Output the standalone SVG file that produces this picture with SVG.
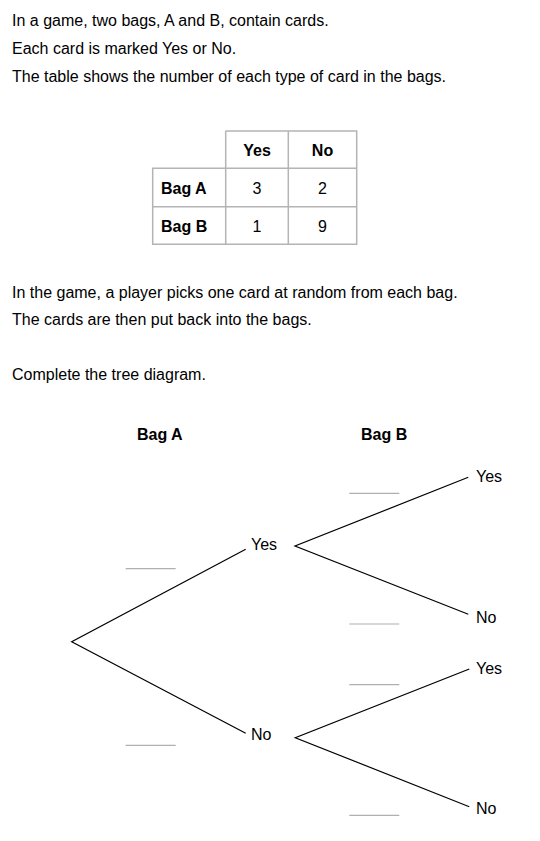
<svg xmlns="http://www.w3.org/2000/svg" width="540" height="841" viewBox="0 0 540 841">
<style>
text{font-family:"Liberation Sans",Arial,sans-serif;font-size:16px;fill:#000}
.b{font-weight:bold}
.m{text-anchor:middle}
.grid{stroke:#b4b4b4;stroke-width:1.5;fill:none}
.br{stroke:#000;stroke-width:1.2;fill:none}
.bl{stroke:#b0b0b0;stroke-width:1.2}
</style>
<rect width="540" height="841" fill="#fff"/>
<g id="intro">
<text x="12" y="26">In a game, two bags, A and B, contain cards.</text>
<text x="12" y="54">Each card is marked Yes or No.</text>
<text x="12" y="81.5">The table shows the number of each type of card in the bags.</text>
</g>
<g id="table">
<path class="grid" d="M225.7 131H356.7V244.3H152.7V168.3H356.7M152.7 206.7H356.7M225.7 131V244.3M288.3 131V244.3"/>
<text class="b m" x="257" y="156">Yes</text>
<text class="b m" x="322.5" y="156">No</text>
<text class="b" x="161" y="193.5">Bag A</text>
<text class="b" x="161" y="231.5">Bag B</text>
<text class="m" x="257" y="193.5">3</text>
<text class="m" x="322.5" y="193.5">2</text>
<text class="m" x="257" y="231.5">1</text>
<text class="m" x="322.5" y="231.5">9</text>
</g>
<g id="text2">
<text x="12" y="297.5">In the game, a player picks one card at random from each bag.</text>
<text x="12" y="325">The cards are then put back into the bags.</text>
<text x="12" y="380">Complete the tree diagram.</text>
</g>
<g id="headers">
<text class="b" x="137" y="440">Bag A</text>
<text class="b" x="361" y="440">Bag B</text>
</g>
<g id="connectors">
<path class="br" d="M245.7 549.3L71.7 641.7L245.7 733.3"/>
<path class="br" d="M468.3 477.3L295 546L468.3 614.3"/>
<path class="br" d="M469.3 669L295.3 737.7L469.3 806.7"/>
</g>
<g id="blanks">
<line class="bl" x1="125.7" y1="568.7" x2="175.7" y2="568.7"/>
<line class="bl" x1="125.7" y1="745.3" x2="175.7" y2="745.3"/>
<line class="bl" x1="349.3" y1="493.3" x2="399.3" y2="493.3"/>
<line class="bl" x1="349.3" y1="624" x2="399.3" y2="624"/>
<line class="bl" x1="349.3" y1="684.7" x2="399.3" y2="684.7"/>
<line class="bl" x1="349.3" y1="815.3" x2="399.3" y2="815.3"/>
</g>
<g id="node-a-yes"><text x="251" y="550">Yes</text></g>
<g id="node-a-no"><text x="251" y="739.5">No</text></g>
<g id="node-b-yes1"><text x="476" y="482">Yes</text></g>
<g id="node-b-no1"><text x="476" y="622.5">No</text></g>
<g id="node-b-yes2"><text x="476" y="674">Yes</text></g>
<g id="node-b-no2"><text x="476" y="814">No</text></g>
</svg>
